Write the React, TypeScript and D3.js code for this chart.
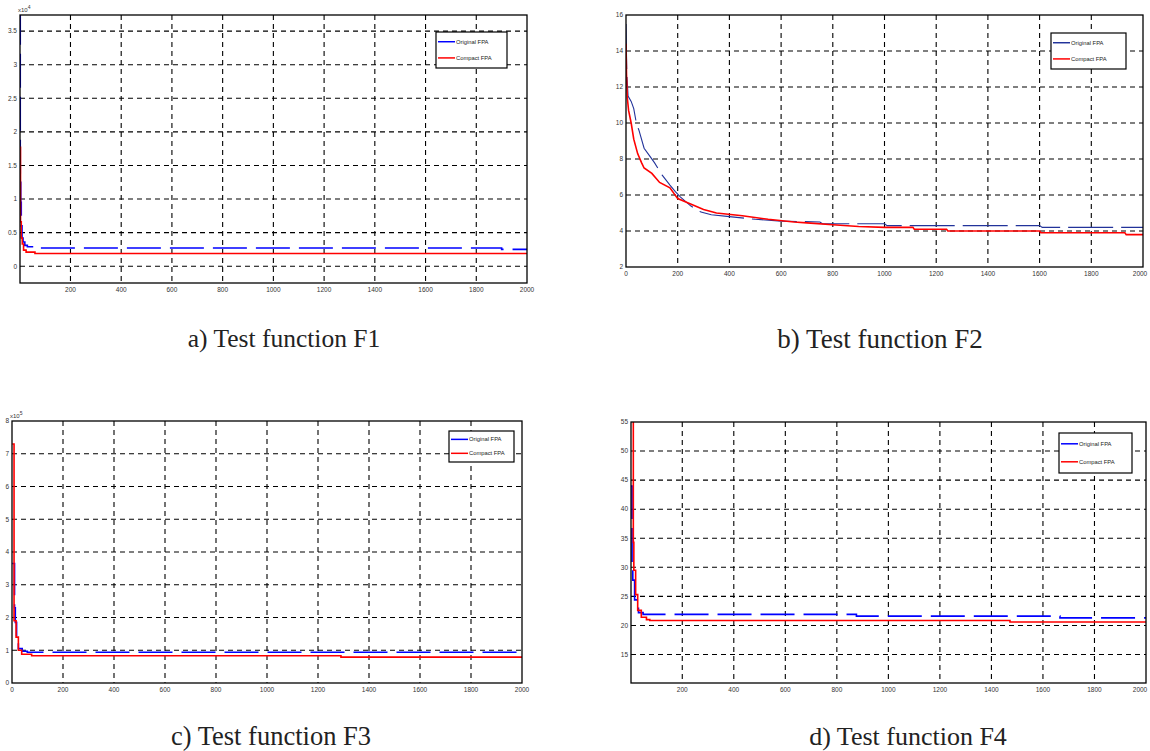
import React from "react";
import * as d3 from "d3";

type Pt = [number, number];

// best fitness per iteration (step breakpoints)
// F1, y in units of 10^4
const f1Original: Pt[] = [[1, 3.8], [2, 1.25], [4, 0.95], [6, 0.6], [9, 0.42], [13, 0.36], [20, 0.31], [30, 0.29], [50, 0.27], [1900, 0.25], [2000, 0.25]];
const f1Compact: Pt[] = [[1, 1.77], [3, 0.66], [6, 0.42], [10, 0.33], [15, 0.24], [25, 0.21], [60, 0.19], [2000, 0.19]];

// F2 (sampled points, drawn as a polyline)
const f2Original: Pt[] = [[0, 15.5], [3, 12.8], [8, 11.5], [20, 11.2], [30, 10.8], [40, 10.0], [50, 9.6], [70, 8.6], [90, 8.2], [110, 7.8], [140, 7.1], [170, 6.55], [190, 6.2], [210, 5.9], [250, 5.4], [290, 5.05], [330, 4.9], [400, 4.8], [500, 4.65], [600, 4.55], [750, 4.5], [760, 4.4], [1000, 4.4], [1010, 4.3], [1600, 4.3], [1610, 4.2], [2000, 4.2]];
const f2Compact: Pt[] = [[0, 14.4], [2, 12.7], [5, 11.4], [10, 10.7], [20, 10.0], [30, 9.1], [45, 8.3], [60, 7.8], [70, 7.5], [100, 7.2], [130, 6.7], [170, 6.4], [200, 5.8], [250, 5.5], [300, 5.2], [350, 5.0], [450, 4.85], [550, 4.65], [650, 4.5], [700, 4.45], [800, 4.35], [900, 4.25], [1000, 4.2], [1110, 4.2], [1115, 4.1], [1240, 4.1], [1245, 4.0], [1600, 4.0], [1605, 3.9], [1930, 3.9], [1935, 3.8], [2000, 3.8]];

// F3, y in units of 10^5
const f3Original: Pt[] = [[1, 3.65], [10, 2.3], [13, 1.85], [18, 1.3], [25, 1.05], [40, 0.97], [60, 0.94], [2000, 0.94]];
const f3Compact: Pt[] = [[1, 7.3], [8, 1.9], [16, 1.4], [25, 1.0], [38, 0.88], [77, 0.83], [1290, 0.79], [2000, 0.79]];

// F4
const f4Original: Pt[] = [[1, 44], [5, 29.6], [8, 27.8], [15, 24.4], [30, 22.2], [48, 21.9], [876, 21.6], [1666, 21.3], [2000, 21.3]];
const f4Compact: Pt[] = [[1, 56], [10, 34.3], [12, 29.5], [19, 25.3], [27, 22.6], [41, 21.4], [61, 21.0], [74, 20.85], [1472, 20.6], [2000, 20.6]];

const xTicksAll = [0, 200, 400, 600, 800, 1000, 1200, 1400, 1600, 1800, 2000];
const xTicksNoZero = [200, 400, 600, 800, 1000, 1200, 1400, 1600, 1800, 2000];
const f1YTicks = [0, 0.5, 1, 1.5, 2, 2.5, 3, 3.5];
const f2YTicks = [2, 4, 6, 8, 10, 12, 14, 16];
const f3YTicks = [0, 1, 2, 3, 4, 5, 6, 7, 8];
const f4YTicks = [15, 20, 25, 30, 35, 40, 45, 50, 55];

const seriesNames = ["Original FPA", "Compact FPA"];
const captions = ["a) Test function F1", "b) Test function F2", "c) Test function F3", "d) Test function F4"];

type PanelProps = {
  id: string;
  left: number; right: number; top: number; bottom: number;
  xDomain: [number, number]; yDomain: [number, number];
  xTicks: number[]; yTicks: number[];
  original: Pt[]; compact: Pt[]; stepped: boolean;
  blue: string; blueDash: string; blueWidth: number;
  legend: { x: number; y: number; w: number; h: number };
  exponent?: string;
  caption: string; capX: number; capY: number; capSize: number;
};

function Panel(p: PanelProps) {
  const x = d3.scaleLinear().domain(p.xDomain).range([p.left, p.right]);
  const y = d3.scaleLinear().domain(p.yDomain).range([p.bottom, p.top]);
  const line = d3.line<Pt>().x(d => x(d[0])).y(d => y(d[1]))
    .curve(p.stepped ? d3.curveStepAfter : d3.curveLinear);
  const gridX = p.xTicks.filter(t => x(t) > p.left + 1 && x(t) < p.right - 1);
  const gridY = p.yTicks.filter(t => y(t) > p.top + 1 && y(t) < p.bottom - 1);
  const lg = p.legend;
  const row1 = lg.y + lg.h * 0.27;
  const row2 = lg.y + lg.h * 0.72;
  return (
    <g>
      <defs>
        <clipPath id={p.id}>
          <rect x={p.left} y={p.top} width={p.right - p.left} height={p.bottom - p.top} />
        </clipPath>
      </defs>
      <rect x={p.left} y={p.top} width={p.right - p.left} height={p.bottom - p.top} fill="#fff" />
      {gridX.map(t => (
        <line key={"gx" + t} x1={x(t)} x2={x(t)} y1={p.top} y2={p.bottom} stroke="#000" strokeWidth={1.1} strokeDasharray="5,4" />
      ))}
      {gridY.map(t => (
        <line key={"gy" + t} x1={p.left} x2={p.right} y1={y(t)} y2={y(t)} stroke="#000" strokeWidth={1.1} strokeDasharray="5,4" />
      ))}
      <g clipPath={`url(#${p.id})`}>
        <path d={line(p.original) || ""} fill="none" stroke={p.blue} strokeWidth={p.blueWidth} strokeDasharray={p.blueDash} />
        <path d={line(p.compact) || ""} fill="none" stroke="#ff0000" strokeWidth={1.6} />
      </g>
      <rect x={p.left} y={p.top} width={p.right - p.left} height={p.bottom - p.top} fill="none" stroke="#000" strokeWidth={1.3} />
      {p.xTicks.map(t => (
        <text key={"tx" + t} x={Math.min(x(t), 1140)} y={p.bottom + 9} fontSize={6.5} fill="#333" textAnchor="middle" fontFamily="Liberation Sans, Arial">{t}</text>
      ))}
      {p.yTicks.map(t => (
        <text key={"ty" + t} x={p.left - 3} y={y(t) + 2.3} fontSize={6.5} fill="#333" textAnchor="end" fontFamily="Liberation Sans, Arial">{t}</text>
      ))}
      {p.exponent && (
        <text x={p.left - 2} y={p.top - 3} fontSize={6} fill="#333" fontFamily="Liberation Sans, Arial">
          x10<tspan dy={-3} fontSize={5}>{p.exponent}</tspan>
        </text>
      )}
      <rect x={lg.x} y={lg.y} width={lg.w} height={lg.h} fill="#fff" stroke="#000" strokeWidth={1.2} />
      <line x1={lg.x + 2} x2={lg.x + 19} y1={row1} y2={row1} stroke={p.blue} strokeWidth={1.5} />
      <line x1={lg.x + 2} x2={lg.x + 19} y1={row2} y2={row2} stroke="#ff0000" strokeWidth={1.5} />
      <text x={lg.x + 20} y={row1 + 2} fontSize={5.8} fill="#222" fontFamily="Liberation Sans, Arial">{seriesNames[0]}</text>
      <text x={lg.x + 20} y={row2 + 2} fontSize={5.8} fill="#222" fontFamily="Liberation Sans, Arial">{seriesNames[1]}</text>
      <text x={p.capX} y={p.capY} fontSize={p.capSize} fill="#222" textAnchor="middle" fontFamily="Liberation Serif, Times New Roman, serif">{p.caption}</text>
    </g>
  );
}

export default function App() {
  return (
    <svg width={1150} height={751} style={{ position: "absolute", left: 0, top: 0, background: "#fff" }}>
      <rect width={1150} height={751} fill="#fff" />
      <Panel id="cpA" left={20} right={527} top={15} bottom={283}
        xDomain={[1, 2000]} yDomain={[-0.25, 3.74]} xTicks={xTicksNoZero} yTicks={f1YTicks}
        original={f1Original} compact={f1Compact} stepped={true} blue="#0000ff" blueDash="34,9" blueWidth={1.6}
        legend={{ x: 436, y: 32, w: 71, h: 36 }} exponent="4"
        caption={captions[0]} capX={284} capY={347} capSize={25.5} />
      <Panel id="cpB" left={626} right={1143} top={15} bottom={267}
        xDomain={[0, 2000]} yDomain={[2, 16]} xTicks={xTicksAll} yTicks={f2YTicks}
        original={f2Original} compact={f2Compact} stepped={false} blue="#22339a" blueDash="45,8" blueWidth={1.1}
        legend={{ x: 1051, y: 33, w: 75, h: 36 }}
        caption={captions[1]} capX={880} capY={348} capSize={27} />
      <Panel id="cpC" left={12} right={522} top={421} bottom={683}
        xDomain={[0, 2000]} yDomain={[0, 8]} xTicks={xTicksAll} yTicks={f3YTicks}
        original={f3Original} compact={f3Compact} stepped={true} blue="#0000ff" blueDash="34,9" blueWidth={1.6}
        legend={{ x: 449, y: 431, w: 65, h: 31 }} exponent="5"
        caption={captions[2]} capX={271} capY={745} capSize={26.5} />
      <Panel id="cpD" left={631} right={1146} top={422} bottom={683}
        xDomain={[1, 2000]} yDomain={[10.1, 55]} xTicks={xTicksNoZero} yTicks={f4YTicks}
        original={f4Original} compact={f4Compact} stepped={true} blue="#0000ff" blueDash="34,9" blueWidth={1.6}
        legend={{ x: 1059, y: 433, w: 73, h: 40 }}
        caption={captions[3]} capX={908} capY={745} capSize={26} />
    </svg>
  );
}
